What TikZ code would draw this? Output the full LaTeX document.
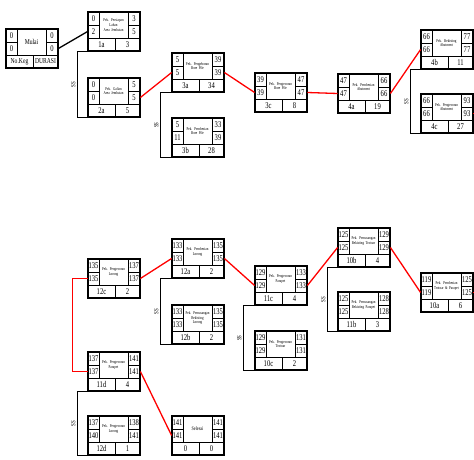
\documentclass[tikz,border=0pt]{standalone}
\usepackage{fontspec}
\setmainfont{Liberation Serif}
\newfontfamily\numfont[FakeStretch=0.75]{Liberation Serif}
\tikzset{
  x=1pt, y=-1pt,
  cell/.style={draw, line width=0.8pt, inner sep=0pt, align=center,
    font=\numfont\fontsize{8.8}{9}\selectfont},
  desc/.style={draw, line width=0.8pt, inner sep=0pt, align=center,
    font=\numfont\fontsize{4.3}{4.6}\selectfont},
  outer/.style={draw, line width=1.4pt, inner sep=0pt,
    minimum width=52pt, minimum height=39pt},
  crit/.style={draw=red, line width=1.3pt},
  link/.style={draw=black, line width=1.3pt},
  sslabel/.style={rotate=90, anchor=south, inner sep=1.2pt,
    font=\numfont\fontsize{6.5}{6.5}\selectfont},
}
\newcommand\act[9]{%
  \begin{scope}[shift={#2}]
    \node[cell, minimum width=11pt, minimum height=13pt] (#1-tl) at (5.5,6.5) {#3};
    \node[cell, minimum width=11pt, minimum height=13pt] (#1-bl) at (5.5,19.5) {#4};
    \node[desc, minimum width=29pt, minimum height=26pt, text width=28pt] (#1-c) at (25.5,13) {#5};
    \node[cell, minimum width=12pt, minimum height=13pt] (#1-tr) at (46,6.5) {#6};
    \node[cell, minimum width=12pt, minimum height=13pt] (#1-br) at (46,19.5) {#7};
    \node[cell, minimum width=27pt, minimum height=13pt] (#1-id) at (13.5,32.5) {#8};
    \node[cell, minimum width=25pt, minimum height=13pt] (#1-du) at (39.5,32.5) {#9};
    \node[outer] (#1) at (26,19.5) {};
  \end{scope}}
\begin{document}
\begin{tikzpicture}
\useasboundingbox[fill=white] (0,0) rectangle (474,460);
% upper network
\act{mulai}{(6,29)}{0}{0}{\fontsize{7.5}{8}\selectfont Mulai}{0}{0}{\fontsize{7.5}{8}\selectfont No.Keg}{\fontsize{7.5}{8}\selectfont DURASI}
\act{1a}{(88,12)}{0}{2}{Pek. Persiapan\\Lahan\\Area Jembatan}{3}{5}{1a}{3}
\act{2a}{(88,78)}{0}{0}{Pek. Galian\\Area Jembatan}{5}{5}{2a}{5}
\act{3a}{(172,53)}{5}{5}{Pek. Pengeboran\\Bore Pile}{39}{39}{3a}{34}
\act{3b}{(172,118)}{5}{11}{Pek. Pembesian\\Bore Pile}{33}{39}{3b}{28}
\act{3c}{(255,73)}{39}{39}{Pek. Pengecoran\\Bore Pile}{47}{47}{3c}{8}
\act{4a}{(338,74)}{47}{47}{Pek. Pembesian\\Abutment}{66}{66}{4a}{19}
\act{4b}{(421,30)}{66}{66}{Pek. Bekisting\\Abutment}{77}{77}{4b}{11}
\act{4c}{(421,94)}{66}{66}{Pek. Pengecoran\\Abutment}{93}{93}{4c}{27}
% lower network
\act{12c}{(88,259)}{135}{135}{Pek. Pengecoran\\Lorong}{137}{137}{12c}{2}
\act{12a}{(172,239)}{133}{133}{Pek. Pembesian\\Lorong}{135}{135}{12a}{2}
\act{12b}{(172,305)}{133}{133}{Pek. Pemasangan\\Bekisting\\Lorong}{135}{135}{12b}{2}
\act{11c}{(255,266)}{129}{129}{Pek. Pengecoran\\Parapet}{133}{133}{11c}{4}
\act{10c}{(255,331)}{129}{129}{Pek. Pengecoran\\Trotoar}{131}{131}{10c}{2}
\act{10b}{(338,228)}{125}{125}{Pek. Pemasangan\\Bekisting Trotoar}{129}{129}{10b}{4}
\act{11b}{(338,292)}{125}{125}{Pek. Pemasangan\\Bekisting Parapet}{128}{128}{11b}{3}
\act{10a}{(421,273)}{119}{119}{Pek. Pembesian\\Trotoar \& Parapet}{125}{125}{10a}{6}
\act{11d}{(88,352)}{137}{137}{Pek. Pengecoran\\Parapet}{141}{141}{11d}{4}
\act{12d}{(88,416)}{137}{140}{Pek. Pengecoran\\Lorong}{138}{141}{12d}{1}
\act{selesai}{(172,416)}{141}{141}{\fontsize{5.5}{6}\selectfont Selesai}{141}{141}{0}{0}
% off-picture ends
\coordinate (off4c) at (490,113.5);
\coordinate (off10a) at (490,292.5);
% connectors upper
\draw[link] (mulai-br.east) -- (1a-bl.west);
\draw[link] (1a.south west) -- ++(-10,0) |- node[sslabel,pos=0.25]{SS} (2a.south west);
\draw[crit] (2a-br.east) -- (3a-bl.west);
\draw[link] (3a.south west) -- ++(-11,0) |- node[sslabel,pos=0.25]{SS} (3b.south west);
\draw[crit] (3a-br.east) -- (3c-bl.west);
\draw[crit] (3c-br.east) -- (4a-bl.west);
\draw[crit] (4a-br.east) -- (4b-bl.west);
\draw[link] (4b.south west) -- ++(-10,0) |- node[sslabel,pos=0.25]{SS} (4c.south west);
\draw[crit] (4c-br.east) -- (off4c);
% connectors lower
\draw[crit] (12c-br.east) -- (12a-bl.west);
\draw[crit] (12c-bl.west) -- ++(-15,0) |- (11d-bl.west);
\draw[link] (12a.south west) -- ++(-11,0) |- node[sslabel,pos=0.25]{SS} (12b.south west);
\draw[crit] (12a-br.east) -- (11c-bl.west);
\draw[link] (11c.south west) -- ++(-11,0) |- node[sslabel,pos=0.25]{SS} (10c.south west);
\draw[crit] (11c-br.east) -- (10b-bl.west);
\draw[link] (10b.south west) -- ++(-10,0) |- node[sslabel,pos=0.25]{SS} (11b.south west);
\draw[crit] (10b-br.east) -- (10a-bl.west);
\draw[crit] (10a-br.east) -- (off10a);
\draw[link] (11d.south west) -- ++(-10,0) |- node[sslabel,pos=0.25]{SS} (12d.south west);
\draw[crit] (11d-br.east) -- (selesai-bl.west);
\end{tikzpicture}
\end{document}
